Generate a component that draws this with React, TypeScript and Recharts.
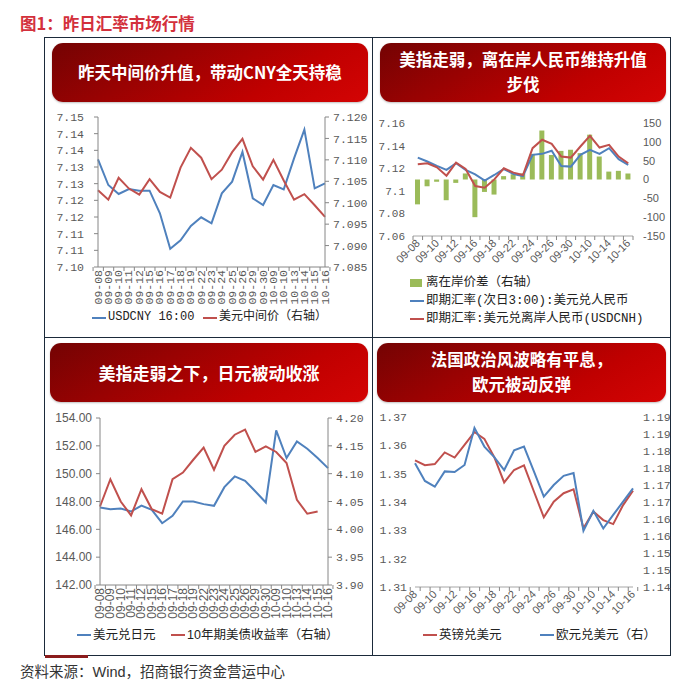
import React from 'react';
import { ComposedChart, Line, Bar, XAxis, YAxis } from 'recharts';

// ---------- data ----------
const categories = ['09-08','09-09','09-10','09-11','09-12','09-15','09-16','09-17','09-18','09-19','09-22','09-23','09-24','09-25','09-26','09-29','09-30','10-09','10-10','10-13','10-14','10-15','10-16'];

// panel 1
const usdcny1600 = [7.1373,7.1296,7.1269,7.1284,7.1279,7.1279,7.1211,7.1105,7.1130,7.1173,7.1199,7.1181,7.1271,7.1306,7.1395,7.1256,7.1236,7.1296,7.1283,7.1376,7.1462,7.1286,7.1301];
const cnyMid = [7.1029,7.1007,7.1058,7.1033,7.1019,7.1055,7.1025,7.1012,7.1082,7.1128,7.1105,7.1055,7.1077,7.1118,7.1149,7.1085,7.1054,7.1100,7.1052,7.1007,7.1020,7.0994,7.0967];
const p1LeftTicks = [7.105,7.11,7.115,7.12,7.125,7.13,7.135,7.14,7.145,7.15];
const p1LeftLabels = ['7.10','7.11','7.11','7.12','7.12','7.13','7.13','7.14','7.14','7.15'];
const p1RightTicks = [7.085,7.09,7.095,7.1,7.105,7.11,7.115,7.12];

// panel 2
const cnhSpread = [-66,-18,-6,-55,-9,16,-100,-33,-40,9,14,16,68,130,65,76,79,70,119,61,21,23,16];
const usdcnySpot = [7.1294,7.1259,7.1220,7.1185,7.1244,7.1185,7.1146,7.1090,7.1140,7.1193,7.1149,7.1131,7.1318,7.1327,7.1354,7.1220,7.1214,7.1318,7.1363,7.1327,7.1377,7.1280,7.1229];
const usdcnh = [7.1235,7.1244,7.1208,7.1134,7.1250,7.1193,7.1042,7.1027,7.1101,7.1199,7.1161,7.1140,7.1377,7.1452,7.1416,7.1303,7.1294,7.1392,7.1487,7.1383,7.1407,7.1303,7.1244];
const p2LeftTicks = [7.06,7.08,7.1,7.12,7.14,7.16];
const p2RightTicks = [-150,-100,-50,0,50,100,150];

// panel 3
const usdjpy = [147.57,147.45,147.50,147.28,147.71,147.40,146.44,146.97,148.00,148.00,147.81,147.69,149.03,149.80,149.49,148.72,147.93,153.11,151.12,152.32,151.79,151.12,150.40];
const ust10y = [4.041,4.090,4.050,4.025,4.072,4.036,4.028,4.090,4.102,4.125,4.147,4.107,4.150,4.170,4.179,4.139,4.149,4.139,4.119,4.053,4.028,4.032,null];
const p3LeftTicks = [142,144,146,148,150,152,154];
const p3RightTicks = [3.9,3.95,4.0,4.05,4.1,4.15,4.2];

// panel 4
const gbpusd = [1.3547,1.3530,1.3534,1.3575,1.3557,1.3602,1.3647,1.3623,1.3558,1.3469,1.3513,1.3529,1.3437,1.3346,1.3401,1.3431,1.3445,1.3307,1.3366,1.3336,1.3322,1.3389,1.3440];
const eurusd = [1.1764,1.1712,1.1695,1.1740,1.1738,1.1759,1.1868,1.1813,1.1782,1.1744,1.1802,1.1813,1.1740,1.1666,1.1700,1.1727,1.1735,1.1565,1.1624,1.1572,1.1612,1.1651,1.1690];
const p4LeftTicks = [1.31,1.32,1.33,1.34,1.35,1.36,1.37];
const p4RightTicks = [1.14,1.145,1.15,1.155,1.16,1.165,1.17,1.175,1.18,1.185,1.19];
const p4RightLabels = ['1.14','1.15','1.15','1.16','1.16','1.17','1.17','1.18','1.18','1.19','1.19'];

// ---------- styles ----------
const FONT_MONO = "'Liberation Mono', 'DejaVu Sans Mono', monospace";
const FONT_SANS = "'Liberation Sans', Arial, sans-serif";
const FONT_CJK = "'Noto Sans CJK SC', sans-serif";
const AXIS = '#868686';
const TEXT = '#595959';
const BLUE = '#4f81bd';
const RED = '#c0504d';
const GREEN = '#9bbb59';
const FRAME = '#1b2a3a';

const p1Data = categories.map((c, i) => ({ c, a: usdcny1600[i], b: cnyMid[i] }));
const p2Data = categories.map((c, i) => ({ c, s: cnhSpread[i], a: usdcnySpot[i], b: usdcnh[i] }));
const p3Data = categories.map((c, i) => ({ c, a: usdjpy[i], b: ust10y[i] }));
const p4Data = categories.map((c, i) => ({ c, a: gbpusd[i], b: eurusd[i] }));

const lookup = (ticks: number[], labels: string[]) => (v: number) => {
  const i = ticks.findIndex((t) => Math.abs(t - v) < 1e-9);
  return i >= 0 ? labels[i] : String(v);
};

function makeXTick(o: { band: number; count: number; rotate: number; font: string; size: number; every: number; off: number }) {
  return (props: any) => {
    const { x, y, payload, index } = props;
    const half = o.band / 2;
    const ty = y + o.off;
    return (
      <g>
        <line x1={x - half} x2={x - half} y1={y} y2={y + 4} stroke={AXIS} strokeWidth={1} />
        {index === o.count - 1 && <line x1={x + half} x2={x + half} y1={y} y2={y + 4} stroke={AXIS} strokeWidth={1} />}
        {index % o.every === 0 && (
          <text
            x={x}
            y={ty}
            transform={`rotate(${o.rotate}, ${x}, ${ty})`}
            textAnchor="end"
            dominantBaseline="central"
            fontFamily={o.font}
            fontSize={o.size}
            fill={TEXT}
          >
            {payload.value}
          </text>
        )}
      </g>
    );
  };
}

const Banner = ({ left, top, width, height, lines, size, lineGap }: any) => (
  <div
    style={{
      position: 'absolute', left, top, width, height, borderRadius: 11,
      background: 'linear-gradient(150deg, #740303 0%, #9a0202 35%, #c00000 70%, #d40404 100%)',
      boxShadow: '0 1px 2px rgba(0,0,0,0.25)',
    }}
  >
    {lines.map((t: string, i: number) => (
      <div
        key={i}
        style={{
          position: 'absolute', left: 0, width: '100%', textAlign: 'center',
          top: height / 2 - (lines.length - 1) * lineGap / 2 + i * lineGap - size * 0.7,
          color: '#fff', fontFamily: FONT_CJK, fontWeight: 700, fontSize: size, lineHeight: `${size * 1.4}px`,
          whiteSpace: 'nowrap',
        }}
      >
        {t}
      </div>
    ))}
  </div>
);

const LegendLine = ({ x, y, color, label, font, size, w = 14 }: any) => (
  <>
    <div style={{ position: 'absolute', left: x, top: y - 1, width: w, height: 2.2, background: color }} />
    <div style={{ position: 'absolute', left: x + w + 2, top: y - size * 0.72, fontFamily: font, fontSize: size, lineHeight: `${size * 1.44}px`, color: '#222', whiteSpace: 'nowrap' }}>{label}</div>
  </>
);

const LegendBox = ({ x, y, color, label, font, size }: any) => (
  <>
    <div style={{ position: 'absolute', left: x, top: y - 4, width: 12, height: 8, background: color }} />
    <div style={{ position: 'absolute', left: x + 16, top: y - size * 0.72, fontFamily: font, fontSize: size, lineHeight: `${size * 1.44}px`, color: '#222', whiteSpace: 'nowrap' }}>{label}</div>
  </>
);

const LEG_FONT = "'Liberation Mono', 'Noto Sans CJK SC', monospace";
const LEG_FONT2 = "'Liberation Sans', 'Noto Sans CJK SC', sans-serif";

export default function App() {
  const n = categories.length;
  return (
    <div style={{ position: 'fixed', left: 0, top: 0, width: 700, height: 698, background: '#fff', overflow: 'hidden' }}>
      {/* title */}
      <div style={{ position: 'absolute', left: 20, top: 11, fontFamily: FONT_CJK, fontWeight: 700, fontSize: 16.5, lineHeight: '24px', color: '#d3303c', whiteSpace: 'nowrap' }}>
        图1：昨日汇率市场行情
      </div>

      {/* frame */}
      <div style={{ position: 'absolute', left: 44, top: 37, width: 627, height: 619, border: `1px solid ${FRAME}`, boxSizing: 'border-box' }} />
      <div style={{ position: 'absolute', left: 372, top: 37, width: 1, height: 619, background: FRAME }} />
      <div style={{ position: 'absolute', left: 44, top: 337, width: 627, height: 1, background: FRAME }} />
      <div style={{ position: 'absolute', left: 45, top: 655, width: 43, height: 3, background: '#8b1c1c' }} />

      {/* banners */}
      <Banner left={52} top={43} width={316} height={59} lines={['昨天中间价升值，带动CNY全天持稳']} size={16.5} lineGap={25} />
      <Banner left={380} top={43} width={286} height={59} lines={['美指走弱，离在岸人民币维持升值', '步伐']} size={16.5} lineGap={25} />
      <Banner left={50} top={343} width={318} height={59} lines={['美指走弱之下，日元被动收涨']} size={17} lineGap={25} />
      <Banner left={377} top={343} width={289} height={59} lines={['法国政治风波略有平息，', '欧元被动反弹']} size={16.5} lineGap={25} />

      {/* panel 1 */}
      <div style={{ position: 'absolute', left: 44, top: 105 }}>
        <ComposedChart width={329} height={202} data={p1Data} margin={{ top: 12, right: 0, bottom: 0, left: 0 }}>
          <XAxis dataKey="c" interval={0} height={40} tickSize={0} tickMargin={0} tickLine={false} axisLine={{ stroke: AXIS }}
            tick={makeXTick({ band: 227 / n, count: n, rotate: -90, font: FONT_MONO, size: 11.5, every: 1, off: 3 })} />
          <YAxis yAxisId="l" width={54} domain={[7.105, 7.15]} ticks={p1LeftTicks} interval={0} tickFormatter={lookup(p1LeftTicks, p1LeftLabels)}
            axisLine={{ stroke: AXIS }} tickLine={{ stroke: AXIS }} tickSize={4} tickMargin={10}
            tick={{ fill: TEXT, fontFamily: FONT_MONO, fontSize: 11.5 }} />
          <YAxis yAxisId="r" orientation="right" width={48} domain={[7.085, 7.12]} ticks={p1RightTicks} interval={0} tickFormatter={(v: number) => v.toFixed(3)}
            axisLine={{ stroke: AXIS }} tickLine={{ stroke: AXIS }} tickSize={4} tickMargin={4}
            tick={{ fill: TEXT, fontFamily: FONT_MONO, fontSize: 11.5 }} />
          <Line yAxisId="l" dataKey="a" stroke={BLUE} strokeWidth={2} dot={false} isAnimationActive={false} />
          <Line yAxisId="r" dataKey="b" stroke={RED} strokeWidth={2} dot={false} isAnimationActive={false} />
        </ComposedChart>
      </div>
      <LegendLine x={92} y={318} color={BLUE} label="USDCNY 16:00" font={LEG_FONT} size={12} />
      <LegendLine x={203} y={318} color={RED} label="美元中间价（右轴）" font={LEG_FONT} size={12} />

      {/* panel 2 */}
      <div style={{ position: 'absolute', left: 373, top: 105 }}>
        <ComposedChart width={298} height={166} data={p2Data} margin={{ top: 18, right: 0, bottom: 0, left: 0 }}>
          <XAxis dataKey="c" interval={0} height={35} tickSize={0} tickMargin={0} tickLine={false} axisLine={{ stroke: '#a6a6a6' }}
            tick={makeXTick({ band: 220 / n, count: n, rotate: -45, font: FONT_SANS, size: 11, every: 2, off: 5 })} />
          <YAxis yAxisId="l" width={40} domain={[7.06, 7.16]} ticks={p2LeftTicks} interval={0} tickFormatter={(v: number) => String(+v.toFixed(2))}
            axisLine={false} tickLine={false} tickSize={0} tickMargin={8}
            tick={{ fill: TEXT, fontFamily: FONT_MONO, fontSize: 11 }} />
          <YAxis yAxisId="r" orientation="right" width={38} domain={[-150, 150]} ticks={p2RightTicks} interval={0}
            axisLine={false} tickLine={false} tickSize={0} tickMargin={10}
            tick={{ fill: TEXT, fontFamily: FONT_SANS, fontSize: 11 }} />
          <Bar yAxisId="r" dataKey="s" fill={GREEN} barSize={5} isAnimationActive={false} />
          <Line yAxisId="l" dataKey="a" stroke={BLUE} strokeWidth={2} dot={false} isAnimationActive={false} />
          <Line yAxisId="l" dataKey="b" stroke={RED} strokeWidth={2} dot={false} isAnimationActive={false} />
        </ComposedChart>
      </div>
      <LegendBox x={410} y={283} color={GREEN} label="离在岸价差（右轴）" font={LEG_FONT} size={12.5} />
      <LegendLine x={410} y={301} color={BLUE} label="即期汇率(次日3:00):美元兑人民币" font={LEG_FONT} size={12.5} />
      <LegendLine x={410} y={319} color={RED} label="即期汇率:美元兑离岸人民币(USDCNH)" font={LEG_FONT} size={12.5} />

      {/* panel 3 */}
      <div style={{ position: 'absolute', left: 44, top: 405 }}>
        <ComposedChart width={329} height={220} data={p3Data} margin={{ top: 13, right: 0, bottom: 0, left: 0 }}>
          <XAxis dataKey="c" interval={0} height={40} tickSize={0} tickMargin={0} tickLine={false} axisLine={{ stroke: AXIS }}
            tick={makeXTick({ band: 228 / n, count: n, rotate: -90, font: FONT_SANS, size: 12, every: 1, off: 3 })} />
          <YAxis yAxisId="l" width={56} domain={[142, 154]} ticks={p3LeftTicks} interval={0} tickFormatter={(v: number) => v.toFixed(2)}
            axisLine={{ stroke: AXIS }} tickLine={{ stroke: AXIS }} tickSize={4} tickMargin={4}
            tick={{ fill: TEXT, fontFamily: FONT_SANS, fontSize: 12 }} />
          <YAxis yAxisId="r" orientation="right" width={45} domain={[3.9, 4.2]} ticks={p3RightTicks} interval={0} tickFormatter={(v: number) => v.toFixed(2)}
            axisLine={{ stroke: AXIS }} tickLine={{ stroke: AXIS }} tickSize={4} tickMargin={4}
            tick={{ fill: TEXT, fontFamily: FONT_MONO, fontSize: 11.5 }} />
          <Line yAxisId="l" dataKey="a" stroke={BLUE} strokeWidth={2} dot={false} isAnimationActive={false} />
          <Line yAxisId="r" dataKey="b" stroke={RED} strokeWidth={2} dot={false} isAnimationActive={false} />
        </ComposedChart>
      </div>
      <LegendLine x={77} y={635} color={BLUE} label="美元兑日元" font={LEG_FONT2} size={12.5} />
      <LegendLine x={171} y={635} color={RED} label="10年期美债收益率（右轴）" font={LEG_FONT2} size={12.5} />

      {/* panel 4 */}
      <div style={{ position: 'absolute', left: 373, top: 405 }}>
        <ComposedChart width={298} height={217} data={p4Data} margin={{ top: 12, right: 0, bottom: 0, left: 0 }}>
          <XAxis dataKey="c" interval={0} height={35} tickSize={0} tickMargin={0} tickLine={false} axisLine={{ stroke: '#a6a6a6' }}
            tick={makeXTick({ band: 218 / n, count: n, rotate: -45, font: FONT_SANS, size: 11, every: 2, off: 5 })} />
          <YAxis yAxisId="l" width={42} domain={[1.31, 1.37]} ticks={p4LeftTicks} interval={0} tickFormatter={(v: number) => v.toFixed(2)}
            axisLine={false} tickLine={false} tickSize={0} tickMargin={8}
            tick={{ fill: TEXT, fontFamily: FONT_MONO, fontSize: 11.5 }} />
          <YAxis yAxisId="r" orientation="right" width={38} domain={[1.14, 1.19]} ticks={p4RightTicks} interval={0} tickFormatter={lookup(p4RightTicks, p4RightLabels)}
            axisLine={false} tickLine={false} tickSize={0} tickMargin={10}
            tick={{ fill: TEXT, fontFamily: FONT_MONO, fontSize: 11.5 }} />
          <Line yAxisId="l" dataKey="a" stroke={RED} strokeWidth={2} dot={false} isAnimationActive={false} />
          <Line yAxisId="r" dataKey="b" stroke={BLUE} strokeWidth={2} dot={false} isAnimationActive={false} />
        </ComposedChart>
      </div>
      <LegendLine x={423} y={635} color={RED} label="英镑兑美元" font={LEG_FONT2} size={12.5} />
      <LegendLine x={540} y={635} color={BLUE} label="欧元兑美元（右）" font={LEG_FONT2} size={12.5} />

      {/* source */}
      <div style={{ position: 'absolute', left: 20, top: 662, fontFamily: "'Liberation Sans', 'Noto Sans CJK SC', sans-serif", fontSize: 14.5, lineHeight: '20px', color: '#333', whiteSpace: 'nowrap' }}>
        资料来源：Wind，招商银行资金营运中心
      </div>
    </div>
  );
}
